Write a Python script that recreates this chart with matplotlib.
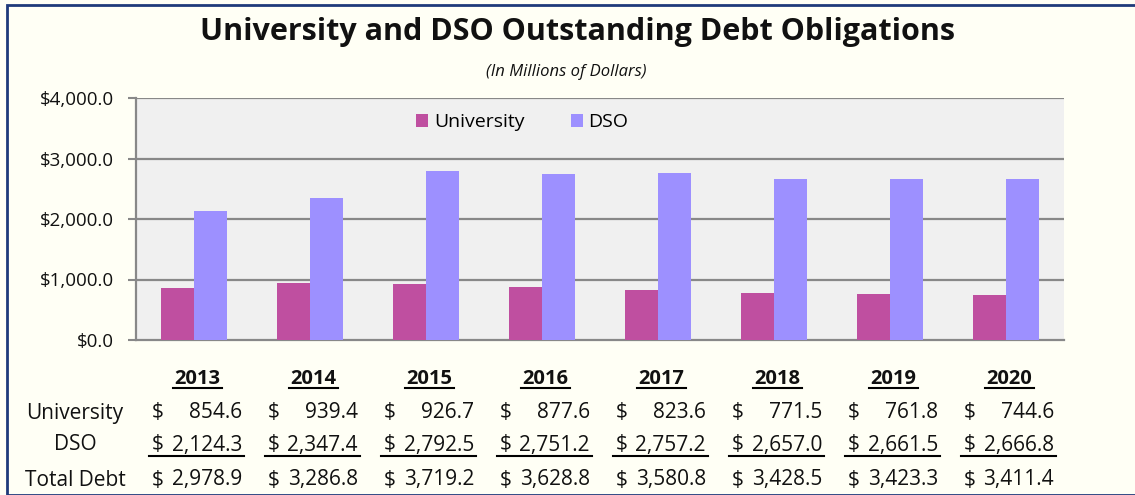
import matplotlib.pyplot as plt
import matplotlib.transforms as mtransforms
from matplotlib.patches import Rectangle
from matplotlib.lines import Line2D
import numpy as np

# Data (millions of dollars)
years = ['2013', '2014', '2015', '2016', '2017', '2018', '2019', '2020']
university = [854.6, 939.4, 926.7, 877.6, 823.6, 771.5, 761.8, 744.6]
dso = [2124.3, 2347.4, 2792.5, 2751.2, 2757.2, 2657.0, 2661.5, 2666.8]
total_debt = [2978.9, 3286.8, 3719.2, 3628.8, 3580.8, 3428.5, 3423.3, 3411.4]
yticks = [0, 1000, 2000, 3000, 4000]

plt.rcParams['font.family'] = ['Open Sans', 'DejaVu Sans']

W, H = 1135, 495
fig = plt.figure(figsize=(W / 100, H / 100), dpi=100)
fig.patch.set_facecolor('#FFFFF5')

# outer chart frame
fig.patches.append(Rectangle((7 / W, 0), 1.2, 1 - 5 / H, transform=fig.transFigure,
                             fill=False, edgecolor='#1F3A7A', linewidth=2))

ax = fig.add_axes([136 / W, (H - 340) / H, 928 / W, 242 / H])
ax.set_facecolor('#F0F0F0')

x = np.arange(len(years))
bw = 0.285
ax.bar(x - bw / 2, university, bw, color='#BF4FA0', label='University', zorder=3)
ax.bar(x + bw / 2, dso, bw, color='#9D90FF', label='DSO', zorder=3)

ax.set_xlim(-0.5, len(years) - 0.5)
ax.set_ylim(0, 4000)
ax.set_yticks(yticks)
ax.set_yticklabels([f'${v:,.1f}' for v in yticks], fontsize=13.5, color='#111111')
ax.set_xticks([])
ax.tick_params(axis='y', length=6, color='#888888', width=1.5, pad=10)
for v in yticks[1:]:
    ax.axhline(v, color='#888888', linewidth=1.6, zorder=1)
for s in ['top', 'right']:
    ax.spines[s].set_visible(False)
for s in ['left', 'bottom']:
    ax.spines[s].set_color('#888888')
    ax.spines[s].set_linewidth(1.6)

ax.legend(loc='center', bbox_to_anchor=(0.4165, 0.90), ncol=2, frameon=False,
          fontsize=14, handlelength=0.6, handleheight=0.6, columnspacing=2.4,
          handletextpad=0.3)

# titles
fig.text(577 / W, 1 - 32 / H, 'University and DSO Outstanding Debt Obligations',
         ha='center', va='center', fontsize=22, fontweight='bold', color='#111111')
fig.text(566 / W, 1 - 72 / H, '(In Millions of Dollars)', ha='center', va='center',
         fontsize=12, style='italic', color='#111111')

# data table below the chart
tr = mtransforms.blended_transform_factory(ax.transData, fig.transFigure)
px = 1 / 116  # one pixel in data units
row_y = {'year': 379, 'University': 413, 'DSO': 445, 'Total Debt': 480}

for lbl in ['University', 'DSO', 'Total Debt']:
    fig.text(75 / W, 1 - row_y[lbl] / H, lbl, ha='center', va='center', fontsize=15,
             color='#111111')

for i, yr in enumerate(years):
    fig.text(i + 3.5 * px, 1 - row_y['year'] / H, yr, transform=tr, ha='center', va='center',
             fontsize=14.5, fontweight='bold', color='#111111')
    fig.lines.append(Line2D([i - 21 * px, i + 28 * px], [1 - 388 / H] * 2, transform=tr,
                            color='black', linewidth=1.5))
    for lbl, vals in [('University', university), ('DSO', dso), ('Total Debt', total_debt)]:
        yy = 1 - row_y[lbl] / H
        fig.text(i - 42 * px, yy, '$', transform=tr, ha='left', va='center',
                 fontsize=15, color='#111111')
        fig.text(i + 48 * px, yy, f'{vals[i]:,.1f}', transform=tr, ha='right', va='center',
                 fontsize=15, color='#111111')
    fig.lines.append(Line2D([i - 45 * px, i + 50 * px], [1 - 456 / H] * 2, transform=tr,
                            color='black', linewidth=1.5))

fig.savefig('out.png', dpi=100, facecolor=fig.get_facecolor())
